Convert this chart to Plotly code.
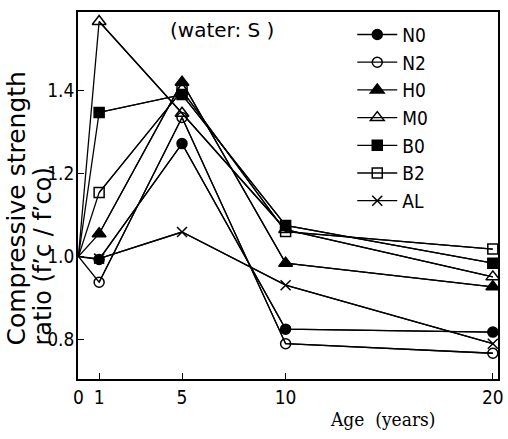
import plotly.graph_objects as go

years = [0, 1, 5, 10, 20]
series_names = ["N0", "N2", "H0", "M0", "B0", "B2", "AL"]
N0 = [1.0, 0.993, 1.272, 0.825, 0.818]
N2 = [1.0, 0.938, 1.335, 0.790, 0.767]
H0 = [1.0, 1.055, 1.420, 0.984, 0.927]
M0 = [1.0, 1.566, 1.345, 1.065, 0.951]
B0 = [1.0, 1.347, 1.390, 1.075, 0.984]
B2 = [1.0, 1.154, 1.400, 1.060, 1.018]
AL = [1.0, 0.995, 1.059, 0.931, 0.790]
x_ticks = [0, 1, 5, 10, 20]
y_ticks = [0.8, 1.0, 1.2, 1.4]
y_tick_labels = ["0.8", "1.0", "1.2", "1.4"]

values = [N0, N2, H0, M0, B0, B2, AL]
symbols = ["circle", "circle-open", "triangle-up", "triangle-up-open",
           "square", "square-open", "x-thin-open"]

narrow = "DejaVu Sans Condensed, sans-serif"

fig = go.Figure()
for name, vals, sym in zip(series_names, values, symbols):
    msize = 12 if "triangle" in sym else 10
    # full line including the common origin at age 0 (no marker there)
    fig.add_trace(go.Scatter(
        x=years, y=vals, mode="lines", legendgroup=name, showlegend=False,
        line=dict(color="black", width=1.3), hoverinfo="skip",
    ))
    fig.add_trace(go.Scatter(
        x=years[1:], y=vals[1:], name=name, legendgroup=name, mode="lines+markers",
        line=dict(color="black", width=1.3),
        marker=dict(symbol=sym, size=msize, color="black",
                    line=dict(color="black", width=1.5)),
    ))

tickfont = dict(family=narrow, size=19, color="black")
fig.update_layout(
    width=508, height=439,
    margin=dict(l=78, r=4, t=12, b=60),
    paper_bgcolor="white", plot_bgcolor="white",
    showlegend=True,
    legend=dict(x=0.653, y=0.99, xanchor="left", yanchor="top",
                bgcolor="rgba(0,0,0,0)",
                font=dict(family=narrow, size=19, color="black"),
                tracegroupgap=0, itemwidth=40),
    xaxis=dict(range=[-0.02, 20.25], tickvals=x_ticks, ticks="inside", ticklen=6,
               tickcolor="black", showline=True, linecolor="black", linewidth=1.5,
               mirror=True, showgrid=False, zeroline=False, tickfont=tickfont,
               ticklabeloverflow="allow"),
    yaxis=dict(range=[0.705, 1.589], tickvals=y_ticks, ticktext=y_tick_labels,
               ticks="inside", ticklen=6, tickcolor="black", showline=True,
               linecolor="black", linewidth=1.5, mirror=True, showgrid=False,
               zeroline=False, tickfont=tickfont, ticklabelstandoff=-2),
)

fig.add_annotation(text="Compressive strength",
                   xref="paper", yref="paper", x=-0.147, y=0.085,
                   xanchor="center", yanchor="bottom", textangle=-90,
                   showarrow=False,
                   font=dict(family="DejaVu Sans", size=25, color="black"))
fig.add_annotation(text="ratio (f\u2019c / f\u2019co)",
                   xref="paper", yref="paper", x=-0.084, y=0.085,
                   xanchor="center", yanchor="bottom", textangle=-90,
                   showarrow=False,
                   font=dict(family="DejaVu Sans", size=24, color="black"))
fig.add_annotation(text="Age  (years)", xref="paper", yref="paper",
                   x=0.725, y=-0.109, xanchor="center", yanchor="middle",
                   showarrow=False,
                   font=dict(family="DejaVu Serif Condensed, DejaVu Serif", size=19, color="black"))
fig.add_annotation(text="(water: S )", xref="paper", yref="paper",
                   x=0.344, y=0.95, xanchor="center", yanchor="middle",
                   showarrow=False,
                   font=dict(family="DejaVu Sans", size=20, color="black"))

fig.write_html("out.html")
